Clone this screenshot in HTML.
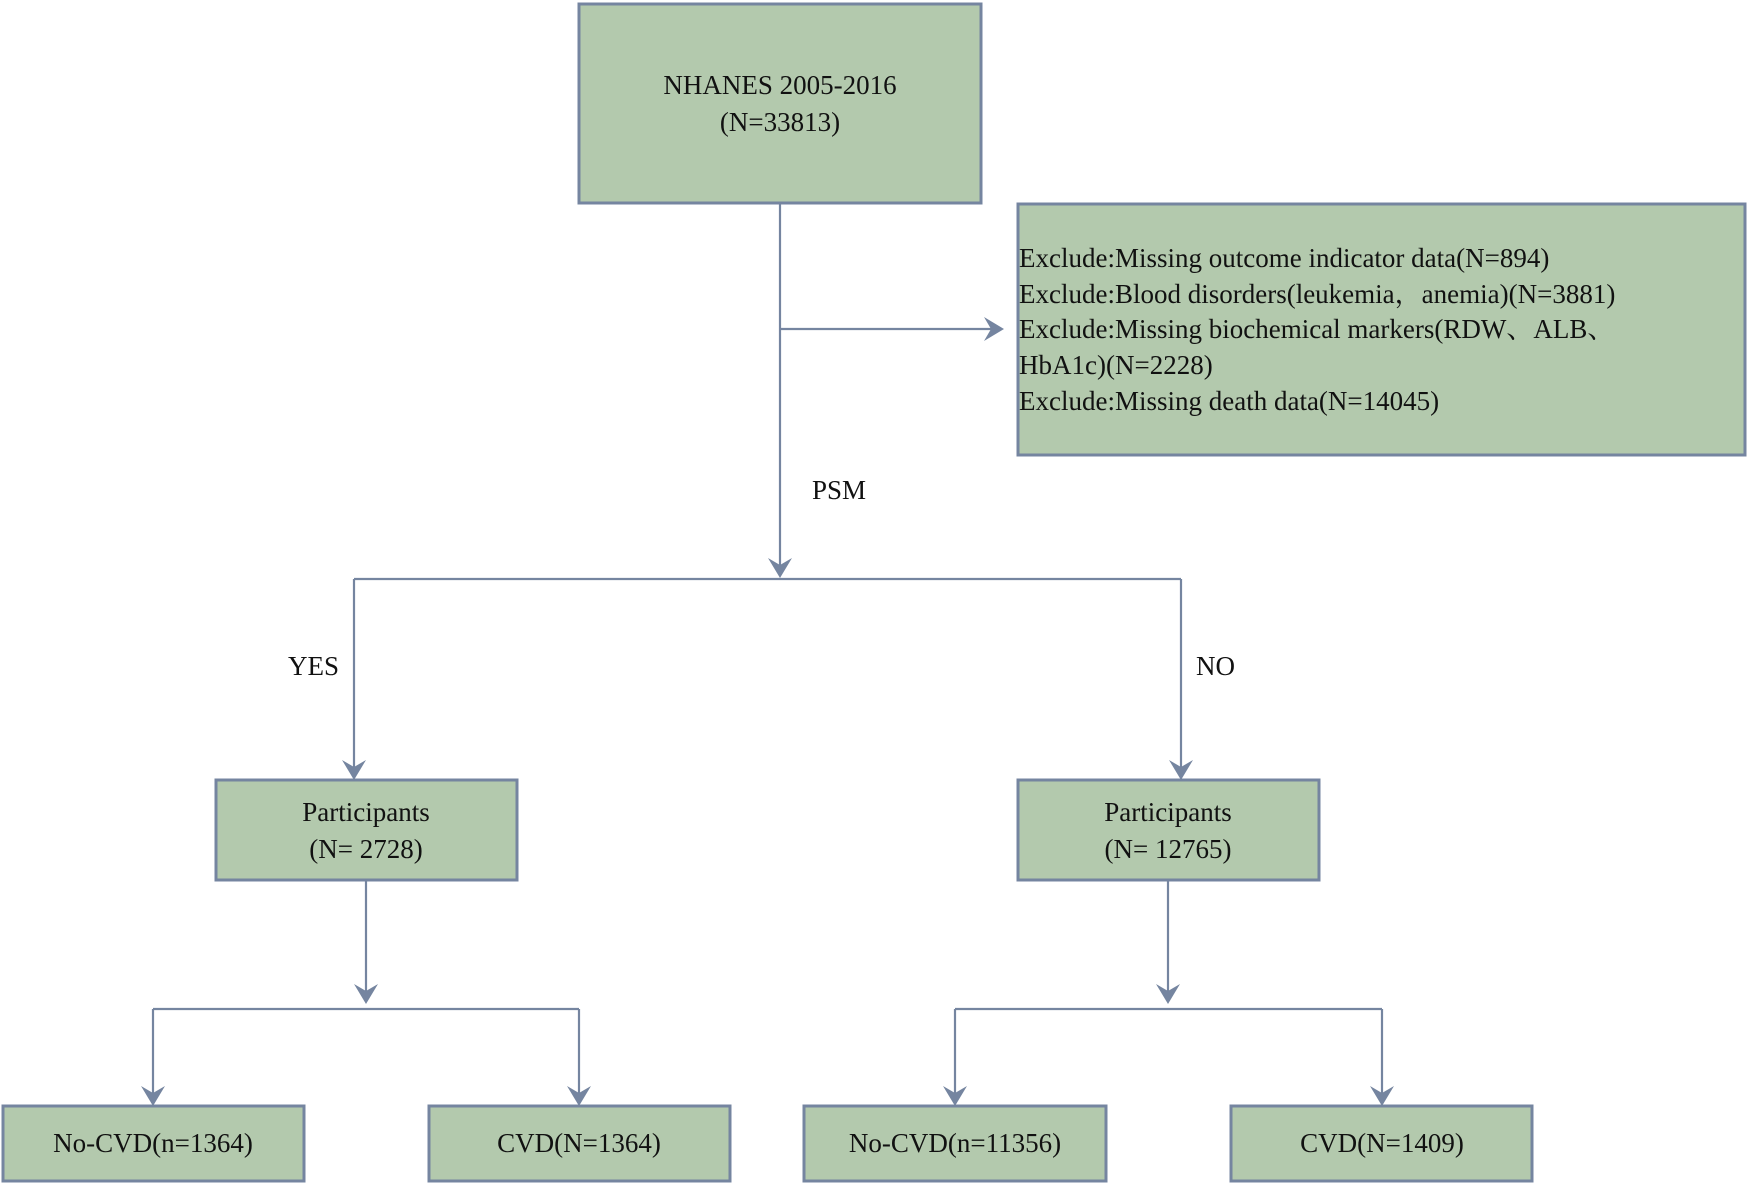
<!DOCTYPE html>
<html><head><meta charset="utf-8"><style>
html,body{margin:0;padding:0;background:#fff;}
svg{display:block;}
text{font-family:"Liberation Serif","Noto Serif CJK SC",serif;font-size:27px;fill:#111;}
.b{fill:#b3c9ad;stroke:#7585a0;stroke-width:3;}
.l{stroke:#7585a0;stroke-width:2.2;fill:none;}
.a{fill:#7585a0;}
</style></head><body>
<svg width="1748" height="1183" viewBox="0 0 1748 1183" xmlns="http://www.w3.org/2000/svg">
<defs>
<path id="ad" d="M0,0 L-12,-20 L0,-13 L12,-20 Z"/>
<path id="ar" d="M0,0 L-20,-12 L-13,0 L-20,12 Z"/>
</defs>
<!-- boxes -->
<rect class="b" x="579" y="4" width="402" height="199"/>
<rect class="b" x="1018" y="204" width="727" height="251"/>
<rect class="b" x="216" y="780" width="301" height="100"/>
<rect class="b" x="1018" y="780" width="301" height="100"/>
<rect class="b" x="3" y="1106" width="301" height="75"/>
<rect class="b" x="429" y="1106" width="301" height="75"/>
<rect class="b" x="804" y="1106" width="302" height="75"/>
<rect class="b" x="1231" y="1106" width="301" height="75"/>
<!-- lines -->
<path class="l" d="M780,203 V570"/>
<use href="#ad" class="a" x="780" y="578"/>
<path class="l" d="M781,329 H996"/>
<use href="#ar" class="a" x="1004" y="329"/>
<path class="l" d="M354,579 H1181"/>
<path class="l" d="M354,579 V772 M1181,579 V772"/>
<use href="#ad" class="a" x="354" y="780"/>
<use href="#ad" class="a" x="1181" y="780"/>
<path class="l" d="M366,880 V996 M1168,880 V996"/>
<use href="#ad" class="a" x="366" y="1004"/>
<use href="#ad" class="a" x="1168" y="1004"/>
<path class="l" d="M153,1009 H579 M955,1009 H1382"/>
<path class="l" d="M153,1009 V1098 M579,1009 V1098 M955,1009 V1098 M1382,1009 V1098"/>
<use href="#ad" class="a" x="153" y="1106"/>
<use href="#ad" class="a" x="579" y="1106"/>
<use href="#ad" class="a" x="955" y="1106"/>
<use href="#ad" class="a" x="1382" y="1106"/>
<!-- text -->
<text x="780" y="94" text-anchor="middle">NHANES 2005-2016</text>
<text x="780" y="131" text-anchor="middle">(N=33813)</text>
<text x="1019" y="267">Exclude:Missing outcome indicator data(N=894)</text>
<text x="1019" y="303">Exclude:Blood disorders(leukemia，anemia)(N=3881)</text>
<text x="1019" y="338">Exclude:Missing biochemical markers(RDW、ALB、</text>
<text x="1019" y="374">HbA1c)(N=2228)</text>
<text x="1019" y="410">Exclude:Missing death data(N=14045)</text>
<text x="812" y="499">PSM</text>
<text x="288" y="675">YES</text>
<text x="1196" y="675">NO</text>
<text x="366" y="821" text-anchor="middle">Participants</text>
<text x="366" y="858" text-anchor="middle">(N= 2728)</text>
<text x="1168" y="821" text-anchor="middle">Participants</text>
<text x="1168" y="858" text-anchor="middle">(N= 12765)</text>
<text x="153" y="1152" text-anchor="middle">No-CVD(n=1364)</text>
<text x="579" y="1152" text-anchor="middle">CVD(N=1364)</text>
<text x="955" y="1152" text-anchor="middle">No-CVD(n=11356)</text>
<text x="1382" y="1152" text-anchor="middle">CVD(N=1409)</text>
</svg>
</body></html>
